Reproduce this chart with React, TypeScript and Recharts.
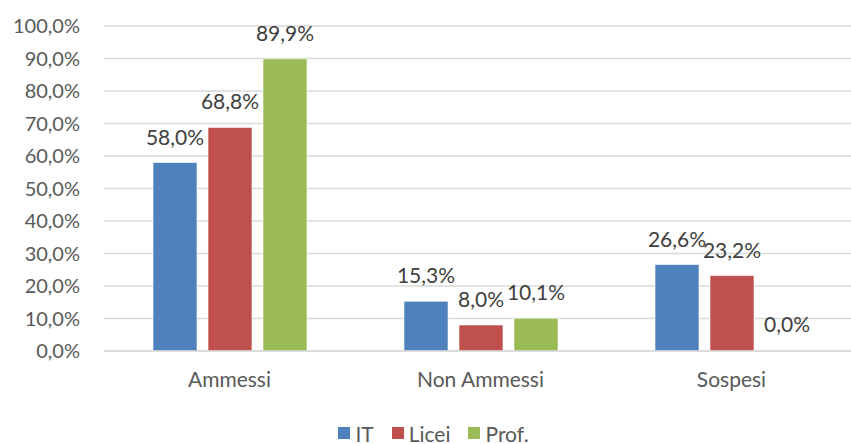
import { BarChart, Bar, XAxis, YAxis, CartesianGrid, Legend, LabelList, Rectangle } from 'recharts'

const categories = ['Ammessi', 'Non Ammessi', 'Sospesi']
const itValues = [58.0, 15.3, 26.6]
const liceiValues = [68.8, 8.0, 23.2]
const profValues = [89.9, 10.1, 0.0]
const yTicks = [0, 10, 20, 30, 40, 50, 60, 70, 80, 90, 100]

const series = [
  { key: 'IT', name: 'IT', color: '#4F81BD' },
  { key: 'Licei', name: 'Licei', color: '#C0504D' },
  { key: 'Prof', name: 'Prof.', color: '#9BBB59' },
]

const data = categories.map((c, i) => ({
  name: c,
  IT: itValues[i],
  Licei: liceiValues[i],
  Prof: profValues[i],
}))

const FONT = 'Lato, "Open Sans", sans-serif'

function pct(v: number) {
  return `${v.toFixed(1).replace('.', ',')}%`
}

function LegendContent() {
  return (
    <div
      style={{
        display: 'flex',
        justifyContent: 'center',
        alignItems: 'center',
        paddingLeft: 28,
        fontFamily: FONT,
        fontSize: 21,
        color: '#595959',
        height: 22,
      }}
    >
      {series.map((s) => (
        <div key={s.key} style={{ display: 'flex', alignItems: 'center', marginRight: 18 }}>
          <span style={{ width: 12, height: 12, background: s.color, display: 'inline-block', marginRight: 5 }} />
          <span>{s.name}</span>
        </div>
      ))}
    </div>
  )
}

// zero-height bars are drawn as nothing, but keep their label
function makeShape(key: string) {
  return (props: any) => {
    if (props.payload && props.payload[key] === 0) return <g />
    return <Rectangle {...props} />
  }
}

export default function App() {
  return (
    <div style={{ position: 'absolute', left: 0, top: 0, width: 851, height: 444, overflow: 'hidden', background: '#fff' }}>
      <BarChart
        width={857}
        height={444}
        data={data}
        margin={{ top: 26, right: 0, left: 0, bottom: 0 }}
        barSize={44}
        barGap={11}
      >
        <CartesianGrid vertical={false} stroke="#D9D9D9" strokeWidth={1.3} />
        <XAxis
          dataKey="name"
          height={71}
          tickLine={false}
          axisLine={{ stroke: '#D9D9D9', strokeWidth: 1.3 }}
          tickMargin={15}
          tick={{ fill: '#595959', fontSize: 21, fontFamily: FONT }}
        />
        <YAxis
          width={104}
          domain={[0, 100]}
          ticks={yTicks}
          interval={0}
          tickFormatter={pct}
          axisLine={false}
          tickLine={false}
          tickMargin={18}
          tick={{ fill: '#595959', fontSize: 20, fontFamily: FONT }}
        />
        <Legend verticalAlign="bottom" height={22} content={<LegendContent />} />
        {series.map((s) => (
          <Bar
            key={s.key}
            dataKey={s.key}
            name={s.name}
            fill={s.color}
            stroke="#ffffff"
            strokeWidth={0.6}
            minPointSize={1}
            shape={makeShape(s.key)}
            isAnimationActive={false}
          >
            <LabelList
              dataKey={s.key}
              position="top"
              offset={18}
              formatter={(v: any) => pct(Number(v))}
              style={{ fill: '#404040', fontSize: 21, fontFamily: FONT }}
            />
          </Bar>
        ))}
      </BarChart>
    </div>
  )
}
